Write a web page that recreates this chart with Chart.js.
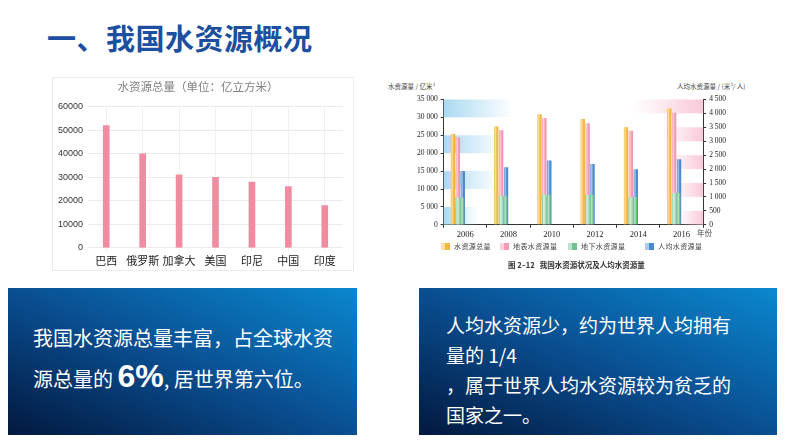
<!DOCTYPE html>
<html>
<head>
<meta charset="utf-8">
<script src="https://cdn.jsdelivr.net/npm/chart.js@4.4.0/dist/chart.umd.min.js"></script>
<style>
  body { margin: 0; width: 794px; height: 447px; background: #fff; position: relative; overflow: hidden;
         font-family: "Noto Sans CJK SC", sans-serif; }
  .abs { position: absolute; }
  #title { left: 47px; top: 21px; font-size: 29px; line-height: 32px; font-weight: bold; color: #1c4f9f; letter-spacing: 0.5px; }
  #card { left: 52px; top: 77px; width: 300px; height: 192px; border: 1px solid #ececec; background: #fff; }
  #leftWrap { left: 52px; top: 77px; width: 300px; height: 192px; }
  #rightWrap { left: 380px; top: 92px; width: 380px; height: 150px; }
  .small { font-size: 6.5px; color: #444; white-space: nowrap; }
  #caption { left: 508px; top: 259px; font-size: 7.5px; font-weight: bold; color: #333; white-space: nowrap; }
  #legend .item { position: absolute; top: 242px; font-size: 7px; color: #444; white-space: nowrap; line-height: 9px; letter-spacing: 0.4px; }
  #legend .sw { display: inline-block; width: 9px; height: 7px; margin-right: 4px; vertical-align: -1px; }
  .box { top: 288px; height: 147px; color: #fff;
         background: linear-gradient(to top right, #03193f 0%, #0a4f92 50%, #0b88cf 100%); }
  #box1 { left: 8px; width: 349px; }
  #box2 { left: 419px; width: 358px; }
  #box1 .txt { position: absolute; left: 25px; top: 30px; font-size: 20px; line-height: 39px; white-space: nowrap; }
  #box2 .txt { position: absolute; left: 27px; top: 22px; font-size: 19px; line-height: 30px; white-space: nowrap; }
  .big { font-size: 32px; font-weight: bold; font-family: "Liberation Sans Narrow", "Liberation Sans", sans-serif; }
</style>
</head>
<body>
<div id="title" class="abs">一、我国水资源概况</div>

<div id="card" class="abs"></div>
<div id="leftWrap" class="abs"><canvas id="leftChart"></canvas></div>

<div class="abs small" style="left:388px; top:81px;">水资源量 / 亿米³</div>
<div class="abs small" style="left:677px; top:81px;">人均水资源量 / (米³/ 人)</div>
<div id="rightWrap" class="abs"><canvas id="rightChart"></canvas></div>
<div class="abs small" style="left:697px; top:227px; font-size:7.5px;">年份</div>
<div id="legend"></div>
<div id="caption" class="abs">图 2–12&nbsp;&nbsp;&nbsp;我国水资源状况及人均水资源量</div>

<div id="box1" class="abs box">
  <div class="txt">我国水资源总量丰富，占全球水资<br>源总量的 <span class="big">6%</span>, 居世界第六位。</div>
</div>
<div id="box2" class="abs box">
  <div class="txt">人均水资源少，约为世界人均拥有<br>量的 1/4<br>，属于世界人均水资源较为贫乏的<br>国家之一。</div>
</div>

<script>
// --- 左图：各国水资源总量（亿立方米） ---
const countries = ["巴西", "俄罗斯", "加拿大", "美国", "印尼", "中国", "印度"];
const countryTotals = [52000, 40000, 31000, 30000, 28000, 26000, 18000];

// --- 右图：我国水资源状况及人均水资源量 ---
const years = ["2006", "2008", "2010", "2012", "2014", "2016"];
const totalWater = [25330, 27434, 30906, 29529, 27267, 32466];   // 水资源总量
const surfaceWater = [24358, 26377, 29798, 28373, 26264, 31274]; // 地表水资源量
const groundWater = [7643, 8122, 8417, 8296, 7745, 8855];        // 地下水资源量
const perCapita = [1932, 2071, 2310, 2186, 1998, 2355];          // 人均水资源量
const seriesNames = ["水资源总量", "地表水资源量", "地下水资源量", "人均水资源量"];
const seriesColors = ["#f5b83f", "#f29bb1", "#6fc28e", "#4a8ad0"];

Chart.defaults.font.family = '"Liberation Sans", "Noto Sans CJK SC", sans-serif';
Chart.defaults.animation = false;

// 千位空格分隔
function spaced(v) {
  return String(v).replace(/\B(?=(\d{3})+(?!\d))/g, " ");
}

// --- Left bar chart ---
new Chart(document.getElementById("leftChart"), {
  type: "bar",
  data: {
    labels: countries,
    datasets: [{
      label: "水资源总量",
      data: countryTotals,
      backgroundColor: "#ef8ca1",
      barThickness: 6
    }]
  },
  options: {
    responsive: true,
    maintainAspectRatio: false,
    layout: { padding: { left: 1, right: 9, top: 0, bottom: 0 } },
    plugins: {
      legend: { display: false },
      tooltip: { enabled: false },
      title: {
        display: true,
        text: "水资源总量（单位：亿立方米）",
        color: "#808080",
        font: { size: 11.5, weight: "normal", family: '"Noto Sans CJK SC", sans-serif' },
        padding: { top: 3, bottom: 13 }
      }
    },
    scales: {
      x: {
        grid: { color: "#f1f1f1", offset: false, tickLength: 4 },
        border: { display: false },
        ticks: { color: "#222", font: { size: 11, family: '"Noto Sans CJK SC", sans-serif' }, padding: 2,
                 maxRotation: 0, autoSkip: false }
      },
      y: {
        min: 0, max: 60000,
        grid: { color: "#ebebeb", drawTicks: false },
        border: { display: false },
        ticks: { stepSize: 10000, color: "#333", font: { size: 9 }, padding: 5, callback: v => String(v) }
      }
    }
  }
});

// --- Background bands (blue left, pink right) ---
const bandPlugin = {
  id: "bands",
  beforeDatasetsDraw(chart) {
    const { ctx, chartArea: a, scales } = chart;
    const y = scales.y, y1 = scales.y1;
    ctx.save();
    const blueWidths = [35, 55, 60, 70];
    [0, 10000, 20000, 30000].forEach((v, i) => {
      const top = y.getPixelForValue(v + 5000), bot = y.getPixelForValue(v);
      const w = blueWidths[i];
      const g = ctx.createLinearGradient(a.left, 0, a.left + w, 0);
      g.addColorStop(0, "rgba(150,208,238,0.8)");
      g.addColorStop(1, "rgba(150,208,238,0)");
      ctx.fillStyle = g;
      ctx.fillRect(a.left, top, w, bot - top);
    });
    const pinkWidths = [25, 30, 35, 40, 70];
    [0, 1000, 2000, 3000, 4000].forEach((v, i) => {
      const top = y1.getPixelForValue(v + 500), bot = y1.getPixelForValue(v);
      const w = pinkWidths[i];
      const g = ctx.createLinearGradient(a.right, 0, a.right - w, 0);
      g.addColorStop(0, "rgba(246,184,204,0.75)");
      g.addColorStop(1, "rgba(246,184,204,0)");
      ctx.fillStyle = g;
      ctx.fillRect(a.right - w, top, w, bot - top);
    });
    ctx.restore();
  }
};

// 柱子上的高光条（课本插图的立体效果）
const shinePlugin = {
  id: "shine",
  afterDatasetsDraw(chart) {
    const ctx = chart.ctx;
    ctx.save();
    // 按绘制顺序（后画的在上层）
    chart.getSortedVisibleDatasetMetas().slice().reverse().forEach(meta => {
      meta.data.forEach(bar => {
        const { x, y, base, width } = bar.getProps(["x", "y", "base", "width"], true);
        const l = x - width / 2;
        const g = ctx.createLinearGradient(l, 0, l + width, 0);
        g.addColorStop(0, "rgba(255,255,255,0.05)");
        g.addColorStop(0.3, "rgba(255,255,255,0.55)");
        g.addColorStop(0.65, "rgba(255,255,255,0)");
        g.addColorStop(1, "rgba(0,0,0,0.06)");
        ctx.fillStyle = g;
        ctx.fillRect(l, y, width, base - y);
      });
    });
    ctx.restore();
  }
};

const serif = '"Liberation Serif", "DejaVu Serif", serif';

// --- Right grouped bar chart ---
const rightChart = new Chart(document.getElementById("rightChart"), {
  type: "bar",
  data: {
    labels: years,
    datasets: [
      { label: seriesNames[0], data: totalWater, yAxisID: "y", backgroundColor: seriesColors[0], categoryPercentage: 0.68, barPercentage: 0.88 },
      { label: seriesNames[1], data: surfaceWater, yAxisID: "y", backgroundColor: seriesColors[1], categoryPercentage: 0.68, barPercentage: 0.88 },
      // 地下水柱画在总量与地表水两柱之间的前方
      { label: seriesNames[2], data: years.map((yr, i) => ({ x: Number(yr), y: groundWater[i] })),
        xAxisID: "x2", yAxisID: "y", grouped: false, order: -1,
        backgroundColor: seriesColors[2], barPercentage: 0.2, categoryPercentage: 1 },
      { label: seriesNames[3], data: perCapita, yAxisID: "y1", backgroundColor: seriesColors[3], categoryPercentage: 0.68, barPercentage: 0.88 }
    ]
  },
  options: {
    responsive: true,
    maintainAspectRatio: false,
    layout: { padding: { left: 34, right: 31, top: 5, bottom: 0 } },
    plugins: {
      tooltip: { enabled: false },
      legend: { display: false }
    },
    scales: {
      x: {
        grid: { drawOnChartArea: false, tickLength: 3, color: "#333" },
        border: { color: "#333" },
        ticks: { color: "#222", font: { size: 8.5, family: serif }, padding: 2 }
      },
      x2: {
        type: "linear", display: false, bounds: "data", offset: false,
        min: 2005.25, max: 2017.25,
        ticks: { stepSize: 2, includeBounds: false }
      },
      y: {
        position: "left", min: 0, max: 35000,
        grid: { drawOnChartArea: false, tickLength: 3, color: "#333" },
        border: { color: "#333" },
        ticks: { stepSize: 5000, color: "#222", font: { size: 7.5, family: serif }, padding: 3, callback: spaced }
      },
      y1: {
        position: "right", min: 0, max: 4500,
        grid: { drawOnChartArea: false, tickLength: 3, color: "#333" },
        border: { color: "#333" },
        ticks: { stepSize: 500, color: "#222", font: { size: 7.5, family: serif }, padding: 3, callback: spaced }
      }
    }
  },
  plugins: [bandPlugin, shinePlugin]
});

// --- 图例（HTML） ---
const legendX = [441, 500, 568, 645];
const legendEl = document.getElementById("legend");
seriesNames.forEach((name, i) => {
  const item = document.createElement("div");
  item.className = "item";
  item.style.left = legendX[i] + "px";
  item.innerHTML = `<span class="sw" style="background:linear-gradient(to right, rgba(255,255,255,0.55) 0 40%, ${seriesColors[i]} 40% 100%), ${seriesColors[i]}"></span>${name}`;
  legendEl.appendChild(item);
});
</script>
</body>
</html>
